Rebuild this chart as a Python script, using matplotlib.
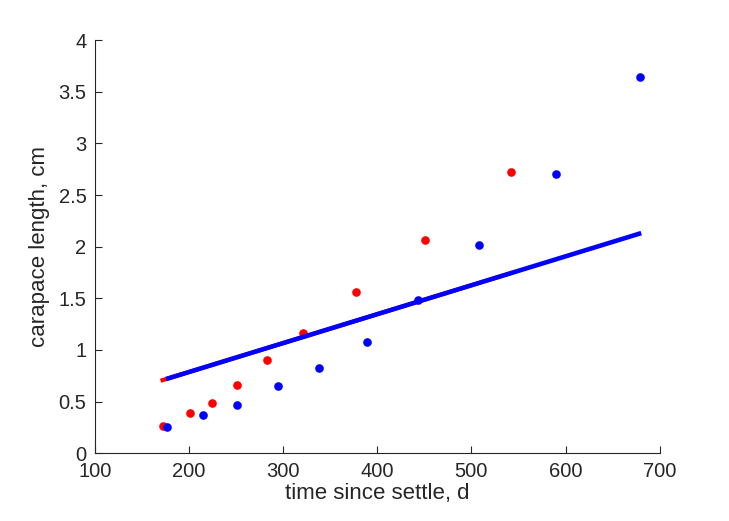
import numpy as np
import matplotlib.pyplot as plt

plt.rcParams['font.family'] = ['Liberation Sans', 'DejaVu Sans']

# red series (time since settle, carapace length)
red_t = [172, 201, 224, 251, 283, 321, 377, 451, 542]
red_L = [0.26, 0.39, 0.49, 0.66, 0.90, 1.16, 1.56, 2.06, 2.72]
# blue series
blue_t = [177, 215, 251, 295, 338, 389, 443, 508, 590, 679]
blue_L = [0.25, 0.37, 0.47, 0.65, 0.83, 1.08, 1.48, 2.02, 2.70, 3.64]

# fitted lines (endpoints)
red_fit_t = [172, 542]
red_fit_L = [0.708, 1.744]
blue_fit_t = [178, 678]
blue_fit_L = [0.725, 2.125]

txt = (0.15, 0.15, 0.15)

fig = plt.figure(figsize=(7.29, 5.21), dpi=100)
ax = fig.add_axes([0.130, 0.130, 0.775, 0.793])

ax.plot(red_t, red_L, 'o', color='red', markersize=6.2, markeredgewidth=0)
ax.plot(blue_t, blue_L, 'o', color='blue', markersize=6.2, markeredgewidth=0)
ax.plot(red_fit_t, red_fit_L, '-', color='red', linewidth=3)
ax.plot(blue_fit_t, blue_fit_L, '-', color='blue', linewidth=3.3)

ax.set_xlim(100, 700)
ax.set_ylim(0, 4)
ax.set_xticks(np.arange(100, 701, 100))
ax.set_yticks(np.arange(0, 4.01, 0.5))
ax.set_yticklabels(['0', '0.5', '1', '1.5', '2', '2.5', '3', '3.5', '4'])

for s in ['top', 'right']:
    ax.spines[s].set_visible(False)
for s in ['left', 'bottom']:
    ax.spines[s].set_color(txt)
    ax.spines[s].set_linewidth(0.8)

ax.tick_params(direction='in', length=5, width=0.8, colors=txt, labelsize=14.5, pad=6)
ax.set_xlabel('time since settle, d', fontsize=16, color=txt, labelpad=2)
ax.set_ylabel('carapace length, cm', fontsize=16, color=txt, labelpad=6)

fig.savefig('out.png', dpi=100)
